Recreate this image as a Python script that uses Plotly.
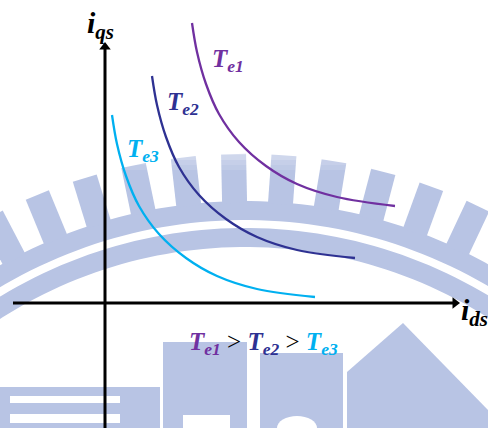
import numpy as np
import plotly.graph_objects as go

W, H = 488, 428

# Constant-torque curves in the (i_ds, i_qs) plane
id_te1 = [4.35, 4.60, 5.05, 5.70, 6.70, 8.05, 9.60, 11.60, 14.50]
iq_te1 = [14.00, 12.55, 10.95, 9.45, 8.05, 6.85, 5.95, 5.30, 4.85]

id_te2 = [2.35, 2.60, 3.05, 3.70, 4.70, 6.05, 7.60, 9.60, 12.50]
iq_te2 = [11.35, 9.90, 8.30, 6.80, 5.40, 4.20, 3.30, 2.65, 2.25]

id_te3 = [0.35, 0.60, 1.05, 1.70, 2.70, 4.05, 5.60, 7.60, 10.50]
iq_te3 = [9.40, 7.95, 6.35, 4.85, 3.45, 2.25, 1.35, 0.70, 0.30]

curve_names = ["Te1", "Te2", "Te3"]
curve_colors = ["#7030A0", "#2E3192", "#00B0F0"]

XR = [-5.25, 19.15]
YR = [-6.25, 15.15]

# axis arrow extents (data units)
X_AXIS_FROM, X_AXIS_TIP = -4.6, 17.5
Y_AXIS_FROM, Y_AXIS_TIP = -7.0, 12.8

fig = go.Figure()
for name, xs, ys, col in zip(curve_names, [id_te1, id_te2, id_te3],
                             [iq_te1, iq_te2, iq_te3], curve_colors):
    fig.add_trace(go.Scatter(x=xs, y=ys, mode="lines", name=name,
                             line=dict(color=col, width=2.3, shape="spline", smoothing=1.0),
                             hoverinfo="skip"))

# arrowheads on the two axes
fig.add_trace(go.Scatter(x=[X_AXIS_TIP, 0], y=[0, Y_AXIS_TIP], mode="markers",
                         marker=dict(symbol=["triangle-right", "triangle-up"], size=10,
                                     color="black", line=dict(width=0)),
                         hoverinfo="skip"))

# ---- faint emblem in the background (paper coordinates from pixel geometry) ----
WM = "rgb(184,196,228)"


def P(px, py):
    return px / W, 1 - py / H


def path_from(points):
    pts = [P(x, y) for x, y in points]
    return "M" + "L".join(f"{x:.5f},{y:.5f}" for x, y in pts) + "Z"


def annulus(cx, cy, r0, r1, a0, a1, n=120):
    t = np.radians(np.linspace(a0, a1, n))
    outer = [(cx + r1 * np.cos(a), cy - r1 * np.sin(a)) for a in t]
    inner = [(cx + r0 * np.cos(a), cy - r0 * np.sin(a)) for a in t[::-1]]
    return path_from(outer + inner)


def rect(x0, y0, x1, y1, col, opacity=1.0):
    a, b = P(x0, y0)
    c, d = P(x1, y1)
    return dict(type="rect", xref="paper", yref="paper", x0=a, y0=b, x1=c, y1=d,
                fillcolor=col, opacity=opacity, line=dict(width=0), layer="below")


shapes = []
cx, cy = 245, 700
for r0, r1 in [(480, 499), (453, 472)]:
    shapes.append(dict(type="path", xref="paper", yref="paper", path=annulus(cx, cy, r0, r1, 20, 160),
                       fillcolor=WM, line=dict(width=0), layer="below"))
for k in range(-5, 6):
    th = np.radians(91.2 + 5.29 * k)
    ux, uy = np.cos(th), -np.sin(th)
    tx, ty = -uy, ux
    hw = 12.5
    pts = []
    for r, s in [(497, -1), (546, -1), (546, 1), (497, 1)]:
        pts.append((cx + r * ux + s * hw * tx, cy + r * uy + s * hw * ty))
    shapes.append(dict(type="path", xref="paper", yref="paper", path=path_from(pts),
                       fillcolor=WM, line=dict(width=0), layer="below"))

# soft fade over the tops of the teeth
for i, op in enumerate([0.75, 0.6, 0.45, 0.32, 0.2, 0.1]):
    shapes.append(rect(0, 140 + 5 * i, W, 145 + 5 * i, "white", op))

shapes += [
    rect(0, 387, 160, 430, WM),
    rect(10, 396, 120, 403, "white"),
    rect(10, 414, 120, 423, "white"),
    rect(163, 342, 247, 430, WM),
    rect(183, 415, 230, 430, "white"),
    rect(260, 353, 343, 430, WM),
    dict(type="path", xref="paper", yref="paper",
         path=path_from([(347, 430), (347, 372), (403, 323), (490, 412), (490, 430)]),
         fillcolor=WM, line=dict(width=0), layer="below"),
    dict(type="circle", xref="paper", yref="paper",
         x0=277 / W, x1=317 / W, y0=1 - 440 / H, y1=1 - 416 / H,
         fillcolor="white", line=dict(width=0), layer="below"),
]

# axis lines
shapes += [
    dict(type="line", xref="x", yref="y", x0=X_AXIS_FROM, y0=0, x1=X_AXIS_TIP, y1=0,
         line=dict(color="black", width=3), layer="above"),
    dict(type="line", xref="x", yref="y", x0=0, y0=Y_AXIS_FROM, x1=0, y1=Y_AXIS_TIP,
         line=dict(color="black", width=3), layer="above"),
]

FONT = "Liberation Serif"


def sym(base, sub, color):
    return (f"<span style='color:{color}'><b><i>{base}</i></b>"
            f"<sub><b><i>{sub}</i></b></sub></span>")


annotations = [
    dict(x=-0.25, y=13.9, xref="x", yref="y", showarrow=False,
         text=sym("i", "qs", "black"), font=dict(family=FONT, size=30, color="black")),
    dict(x=18.45, y=-0.45, xref="x", yref="y", showarrow=False,
         text=sym("i", "ds", "black"), font=dict(family=FONT, size=30, color="black")),
    dict(x=6.15, y=12.15, xref="x", yref="y", showarrow=False,
         text=sym("T", "e1", curve_colors[0]), font=dict(family=FONT, size=25)),
    dict(x=3.88, y=10.0, xref="x", yref="y", showarrow=False,
         text=sym("T", "e2", curve_colors[1]), font=dict(family=FONT, size=25)),
    dict(x=1.88, y=7.65, xref="x", yref="y", showarrow=False,
         text=sym("T", "e3", curve_colors[2]), font=dict(family=FONT, size=25)),
    dict(x=7.9, y=-2.0, xref="x", yref="y", showarrow=False,
         text=(sym("T", "e1", curve_colors[0]) + " > " + sym("T", "e2", curve_colors[1])
               + " > " + sym("T", "e3", curve_colors[2])),
         font=dict(family=FONT, size=25, color="black")),
]

fig.update_layout(
    width=W, height=H,
    margin=dict(l=0, r=0, t=0, b=0),
    paper_bgcolor="white", plot_bgcolor="white",
    showlegend=False,
    xaxis=dict(range=XR, visible=False, fixedrange=True),
    yaxis=dict(range=YR, visible=False, fixedrange=True),
    shapes=shapes,
    annotations=annotations,
)

fig.write_html("out.html")
